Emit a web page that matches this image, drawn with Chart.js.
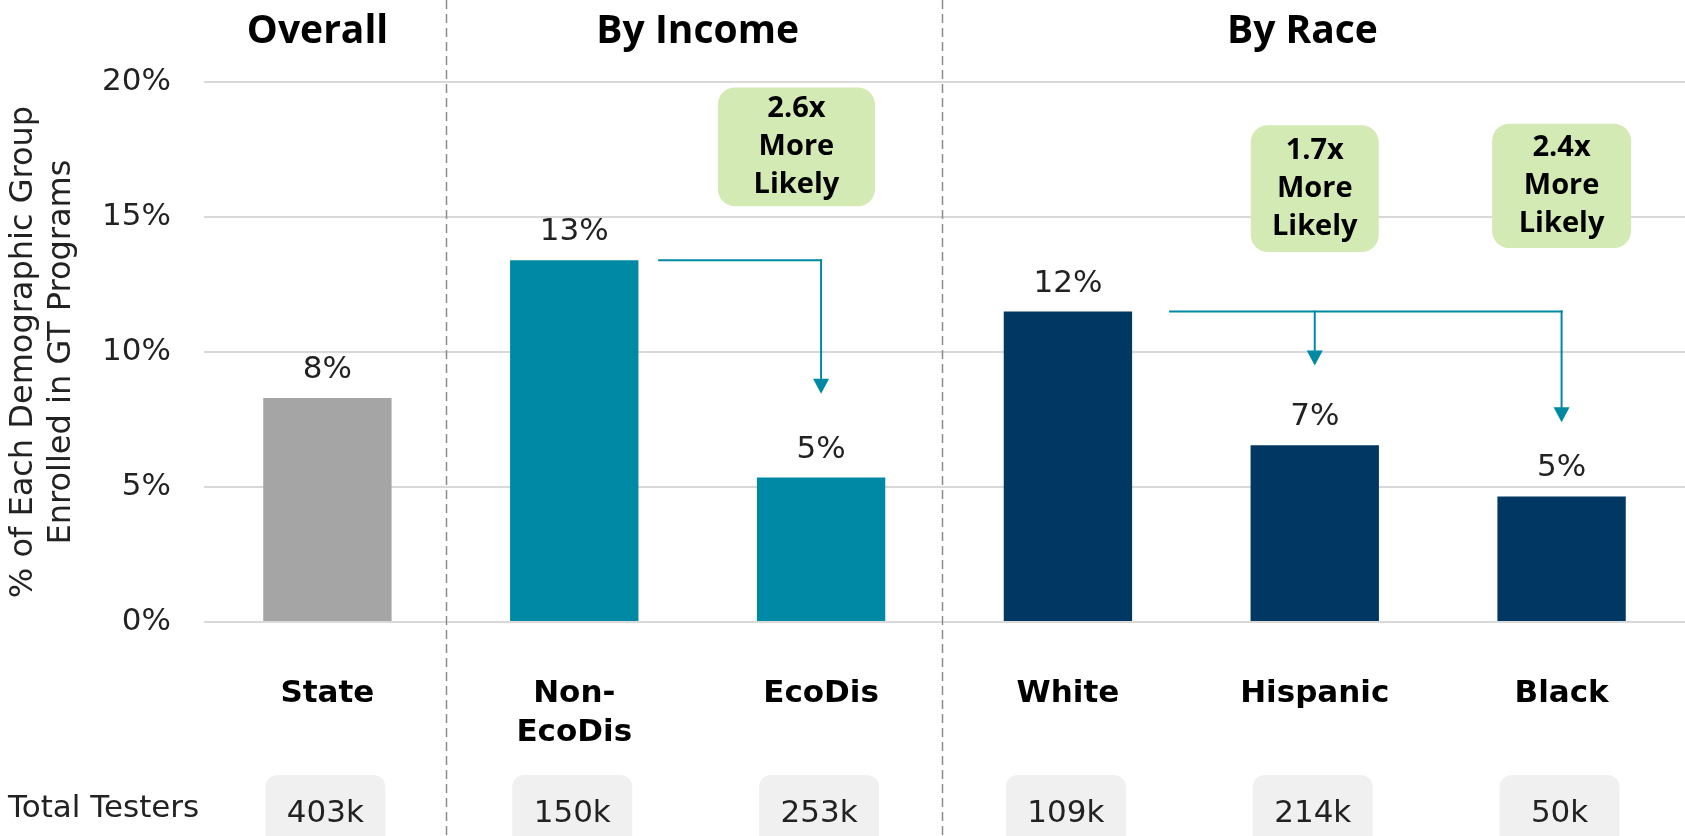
<!DOCTYPE html>
<html>
<head>
<meta charset="utf-8">
<title>GT enrollment by group</title>
<script src="https://cdn.jsdelivr.net/npm/chart.js@4.4.1/dist/chart.umd.min.js"></script>
<style>
  html, body { margin: 0; padding: 0; background: #fff; }
  canvas { display: block; }
</style>
</head>
<body>
<canvas id="graph" width="1685" height="836"></canvas>
<script>
// share of each group enrolled in GT programs (%)
var groups = ["State", ["Non-", "EcoDis"], "EcoDis", "White", "Hispanic", "Black"];
var enrolledPct = [8.3, 13.4, 5.35, 11.5, 6.55, 4.65];
var testers = ["403k", "150k", "253k", "109k", "214k", "50k"];
var barColors = ["#a5a5a5", "#0089a5", "#0089a5", "#003763", "#003763", "#003763"];

var sections = [
  { title: "Overall", at: -0.04 },
  { title: "By Income", at: 1.5 },
  { title: "By Race", at: 3.95 }
];
var dividers = [0.48, 2.49];

// ratio boxes: centre on the category axis, width in px, top/bottom in %
var callouts = [
  { lines: ["2.6x", "More", "Likely"], at: 1.9, width: 157, top: 19.8, bottom: 15.4 },
  { lines: ["1.7x", "More", "Likely"], at: 4, width: 128, top: 18.4, bottom: 13.7 },
  { lines: ["2.4x", "More", "Likely"], at: 5, width: 139, top: 18.45, bottom: 13.85 }
];

// comparison arrows: leave the source bar's height and drop towards targets
var arrows = [
  { from: 1, start: 1.34, targets: [2], tips: [8.45] },
  { from: 3, start: 3.41, targets: [4, 5], tips: [9.5, 7.4] }
];

var TEAL = "#0089a5";
var TEXT = "#222";

function roundedBox(ctx, x, y, w, h, r) {
  ctx.beginPath();
  ctx.moveTo(x + r, y);
  ctx.arcTo(x + w, y, x + w, y + h, r);
  ctx.arcTo(x + w, y + h, x, y + h, r);
  ctx.arcTo(x, y + h, x, y, r);
  ctx.arcTo(x, y, x + w, y, r);
  ctx.closePath();
}

var extras = {
  id: "extras",
  afterDatasetsDraw: function (chart) {
    var ctx = chart.ctx;
    var meta = chart.getDatasetMeta(0);
    ctx.save();
    ctx.font = "31px 'DejaVu Sans'";
    ctx.fillStyle = TEXT;
    ctx.textAlign = "center";
    ctx.textBaseline = "alphabetic";
    meta.data.forEach(function (bar, i) {
      ctx.fillText(Math.round(enrolledPct[i]) + "%", bar.x, bar.y - 20);
    });
    ctx.restore();
  },
  afterDraw: function (chart) {
    var ctx = chart.ctx;
    var x = chart.scales.x;
    var y = chart.scales.y;
    ctx.save();

    // section dividers
    ctx.strokeStyle = "#8c8c8c";
    ctx.lineWidth = 1.5;
    ctx.setLineDash([9, 5]);
    dividers.forEach(function (d) {
      var px = Math.round(x.getPixelForValue(d)) + 0.5;
      ctx.beginPath();
      ctx.moveTo(px, 0);
      ctx.lineTo(px, chart.height);
      ctx.stroke();
    });
    ctx.setLineDash([]);

    // section titles
    ctx.fillStyle = "#000";
    ctx.font = "bold 39px 'Open Sans'";
    ctx.textAlign = "center";
    ctx.textBaseline = "alphabetic";
    sections.forEach(function (s) {
      ctx.fillText(s.title, x.getPixelForValue(s.at), 43);
    });

    // ratio boxes
    callouts.forEach(function (c) {
      var cx = x.getPixelForValue(c.at);
      var top = y.getPixelForValue(c.top);
      var bottom = y.getPixelForValue(c.bottom);
      ctx.fillStyle = "#d4eab5";
      roundedBox(ctx, cx - c.width / 2, top, c.width, bottom - top, 17);
      ctx.fill();
      ctx.fillStyle = "#000";
      ctx.font = "bold 29px 'Open Sans'";
      ctx.textBaseline = "middle";
      var mid = (top + bottom) / 2;
      c.lines.forEach(function (line, i) {
        ctx.fillText(line, cx, mid + (i - 1) * 38);
      });
    });

    // arrows
    ctx.strokeStyle = TEAL;
    ctx.fillStyle = TEAL;
    ctx.lineWidth = 2;
    arrows.forEach(function (a) {
      var py = y.getPixelForValue(enrolledPct[a.from]);
      var last = a.targets[a.targets.length - 1];
      ctx.beginPath();
      ctx.moveTo(x.getPixelForValue(a.start), py);
      ctx.lineTo(x.getPixelForValue(last) + 1, py);
      ctx.stroke();
      a.targets.forEach(function (t, i) {
        var tx = x.getPixelForValue(t);
        var tip = y.getPixelForValue(a.tips[i]);
        ctx.beginPath();
        ctx.moveTo(tx, py - 1);
        ctx.lineTo(tx, tip - 14);
        ctx.stroke();
        ctx.beginPath();
        ctx.moveTo(tx - 8, tip - 15);
        ctx.lineTo(tx + 8, tip - 15);
        ctx.lineTo(tx, tip);
        ctx.closePath();
        ctx.fill();
      });
    });

    // total testers row
    ctx.font = "31px 'DejaVu Sans'";
    ctx.textBaseline = "alphabetic";
    ctx.textAlign = "left";
    ctx.fillStyle = TEXT;
    ctx.fillText("Total Testers", 8, 817);
    ctx.textAlign = "center";
    testers.forEach(function (t, i) {
      var cx = x.getPixelForValue(i) - 2;
      ctx.fillStyle = "#f0f0f0";
      roundedBox(ctx, cx - 60, 775, 120, 90, 12);
      ctx.fill();
      ctx.fillStyle = TEXT;
      ctx.fillText(t, cx, 822);
    });

    ctx.restore();
  }
};

var data = {
  labels: groups,
  datasets: [{
    data: enrolledPct,
    backgroundColor: barColors,
    categoryPercentage: 1,
    barPercentage: 0.52
  }]
};

var config = {
  type: "bar",
  data: data,
  options: {
    responsive: false,
    animation: false,
    layout: { padding: { top: 82, left: 0, right: 0, bottom: 0 } },
    scales: {
      x: {
        grid: { display: false },
        border: { display: false },
        ticks: {
          color: "#000",
          padding: 44,
          font: { family: "'DejaVu Sans'", size: 31, weight: "bold", lineHeight: 1.27 },
          maxRotation: 0,
          autoSkip: false
        },
        afterFit: function (scale) { scale.height = 214; }
      },
      y: {
        min: 0,
        max: 20,
        grid: { color: "#d9d9d9", lineWidth: 2, drawTicks: false },
        border: { display: false },
        ticks: {
          stepSize: 5,
          padding: 33,
          color: TEXT,
          font: { family: "'DejaVu Sans'", size: 31 },
          callback: function (v) { return v + "%"; }
        },
        title: {
          display: true,
          text: ["% of Each Demographic Group", "Enrolled in GT Programs"],
          color: TEXT,
          font: { family: "'DejaVu Sans'", size: 32, lineHeight: 1.19 },
          padding: { top: 5, bottom: 0 }
        },
        afterFit: function (scale) { scale.width = 204; }
      }
    },
    plugins: {
      legend: { display: false },
      tooltip: { enabled: false }
    }
  },
  plugins: [extras]
};

new Chart(document.getElementById("graph"), config);
</script>
</body>
</html>
